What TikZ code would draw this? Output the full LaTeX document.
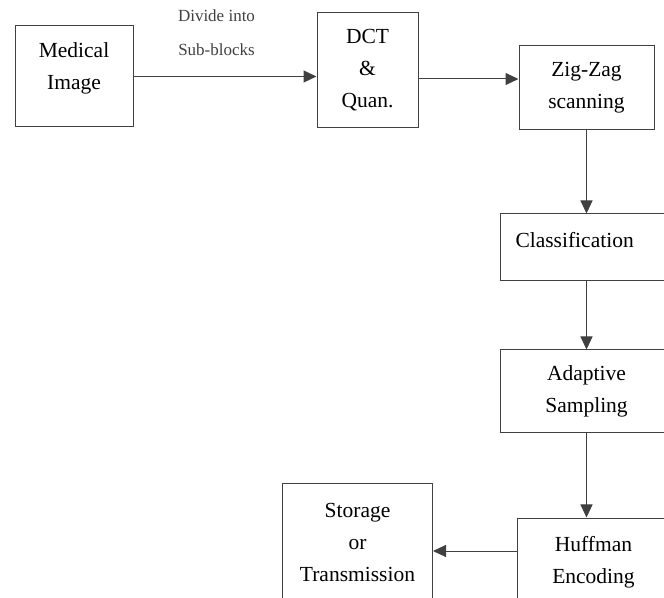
\documentclass[tikz,border=0pt]{standalone}
\usepackage{fontspec}
\setmainfont{Liberation Serif}
\usetikzlibrary{positioning,arrows.meta}
\definecolor{scanline}{gray}{0.25}
\newcommand{\blockfont}{\fontsize{10.75pt}{16pt}\selectfont}
\newcommand{\notefont}{\fontsize{8.5pt}{17pt}\selectfont}
\tikzset{
  box/.style={draw=scanline, line width=0.5pt, align=center, font=\blockfont},
  arrow/.style={-{Triangle[length=6.5pt,width=6pt]}, line width=0.5pt, scanline},
  note/.style={align=center, inner sep=0pt, font=\notefont}
}

\begin{document}
\begin{tikzpicture}
  \useasboundingbox (0,0) rectangle (332pt,-299pt);
  \clip (0,0) rectangle (332pt,-299pt);
  \node[box, minimum width=59pt, minimum height=50.5pt, text depth=10pt] (med) at (37pt,-38.25pt) {Medical\\Image};
  \node[box, minimum width=50.5pt, minimum height=57.5pt, right=91.5pt of med, yshift=3pt] (dct) {DCT\\\&\\Quan.};
  \node[box, minimum width=67.5pt, minimum height=42pt, right=50pt of dct, yshift=-8.75pt] (zig) {Zig-Zag\\scanning};
  \node[box, text width=71pt, inner xsep=7.5pt, align=left, minimum height=33.5pt, text depth=8pt, below=41.5pt of zig] (cls) {Classification};
  \node[box, minimum width=86pt, minimum height=41.5pt, below=34pt of cls] (ada) {Adaptive\\Sampling};
  \node[box, minimum width=76pt, minimum height=44pt, below=42pt of ada, xshift=3.5pt] (huf) {Huffman\\Encoding};
  \node[box, minimum width=75pt, minimum height=58pt, left=42pt of huf, yshift=10pt] (sto) {Storage\\or\\Transmission};
  \draw[arrow] (med.east) -- node[note, above=10pt, xshift=-4.25pt] (div) {Divide into\\Sub-blocks} (med.east -| dct.west);
  \draw[arrow] ([yshift=-4.25pt]dct.east) -- ([yshift=-4.25pt]dct.east -| zig.west);
  \draw[arrow] (zig.south) -- (zig.south |- cls.north);
  \draw[arrow] (cls.south) -- (cls.south |- ada.north);
  \draw[arrow] (ada.south) -- (ada.south |- huf.north);
  \draw[arrow] ([yshift=5.5pt]huf.west) -- ([yshift=5.5pt]huf.west -| sto.east);
\end{tikzpicture}
\end{document}
